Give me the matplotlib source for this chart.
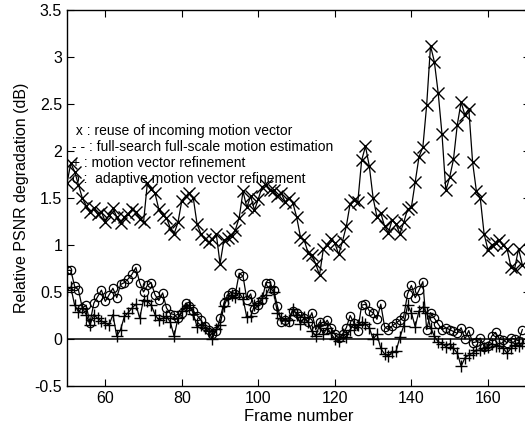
import numpy as np
import matplotlib
matplotlib.use('Agg')
import matplotlib.pyplot as plt

plt.rcParams['font.family'] = ['Liberation Sans', 'DejaVu Sans']

frames = np.arange(50, 170)

# x : reuse of incoming motion vector
reuse = [1.66, 1.87, 1.78, 1.64, 1.50, 1.42, 1.35, 1.39, 1.33, 1.35,
         1.25, 1.32, 1.39, 1.30, 1.23, 1.30, 1.33, 1.38, 1.35, 1.28,
         1.24, 1.66, 1.60, 1.55, 1.38, 1.32, 1.29, 1.18, 1.12, 1.24,
         1.47, 1.52, 1.55, 1.50, 1.22, 1.12, 1.06, 1.03, 1.06, 1.12,
         0.80, 1.05, 1.07, 1.10, 1.16, 1.29, 1.57, 1.40, 1.52, 1.37,
         1.49, 1.62, 1.64, 1.58, 1.58, 1.52, 1.55, 1.46, 1.50, 1.45,
         1.30, 1.09, 1.05, 0.92, 0.89, 0.80, 0.68, 0.96, 1.00, 1.06,
         1.02, 0.90, 1.04, 1.20, 1.44, 1.48, 1.46, 1.90, 2.05, 1.84,
         1.50, 1.30, 1.34, 1.20, 1.13, 1.27, 1.22, 1.12, 1.24, 1.38,
         1.40, 1.67, 1.94, 2.04, 2.49, 3.12, 2.95, 2.62, 2.18, 1.58,
         1.72, 1.91, 2.28, 2.52, 2.38, 2.45, 1.88, 1.57, 1.50, 1.12,
         0.95, 1.00, 1.02, 1.05, 1.00, 0.96, 0.77, 0.75, 0.96, 0.79]

# + : motion vector refinement
refine = [0.52, 0.55, 0.36, 0.29, 0.33, 0.26, 0.15, 0.26, 0.22, 0.19,
          0.17, 0.15, 0.26, 0.03, 0.10, 0.24, 0.28, 0.33, 0.37, 0.22,
          0.42, 0.40, 0.36, 0.26, 0.20, 0.22, 0.24, 0.18, 0.03, 0.22,
          0.30, 0.33, 0.36, 0.27, 0.13, 0.15, 0.12, 0.08, 0.00, 0.11,
          0.15, 0.35, 0.44, 0.47, 0.45, 0.49, 0.43, 0.23, 0.24, 0.36,
          0.38, 0.44, 0.47, 0.55, 0.50, 0.28, 0.22, 0.20, 0.20, 0.32,
          0.26, 0.16, 0.23, 0.18, 0.08, 0.03, 0.15, 0.05, 0.12, 0.06,
          0.00, -0.02, 0.05, 0.02, 0.10, 0.16, 0.15, 0.18, 0.16, 0.12,
          0.00, 0.05, -0.10, -0.16, -0.18, -0.14, -0.13, 0.02, 0.14, 0.36,
          0.28, 0.13, 0.30, 0.34, 0.28, 0.12, 0.03, -0.03, -0.05, -0.08,
          -0.05, -0.10, -0.15, -0.29, -0.20, -0.17, -0.15, -0.12, -0.12, -0.10,
          -0.08, -0.05, -0.07, -0.07, -0.10, -0.15, -0.10, -0.06, -0.07, -0.04]

# o : adaptive motion vector refinement
adaptive = [0.73, 0.73, 0.56, 0.52, 0.33, 0.36, 0.17, 0.38, 0.45, 0.52,
            0.40, 0.47, 0.54, 0.44, 0.58, 0.60, 0.64, 0.69, 0.76, 0.60,
            0.50, 0.57, 0.60, 0.47, 0.41, 0.49, 0.33, 0.27, 0.26, 0.22,
            0.28, 0.38, 0.35, 0.30, 0.25, 0.20, 0.14, 0.10, 0.05, 0.08,
            0.22, 0.38, 0.47, 0.50, 0.48, 0.70, 0.67, 0.42, 0.48, 0.32,
            0.36, 0.42, 0.60, 0.60, 0.52, 0.35, 0.18, 0.20, 0.18, 0.30,
            0.28, 0.25, 0.22, 0.18, 0.28, 0.10, 0.18, 0.14, 0.20, 0.12,
            0.05, 0.01, 0.05, 0.12, 0.25, 0.17, 0.09, 0.36, 0.37, 0.30,
            0.28, 0.21, 0.37, 0.13, 0.10, 0.14, 0.17, 0.20, 0.24, 0.48,
            0.57, 0.44, 0.52, 0.61, 0.10, 0.28, 0.22, 0.16, 0.10, 0.12,
            0.10, 0.08, 0.06, 0.12, 0.00, 0.09, -0.04, -0.03, 0.01, -0.08,
            -0.07, 0.03, 0.07, 0.00, -0.01, -0.04, 0.01, 0.00, -0.02, 0.10]

legend_lines = [' x : reuse of incoming motion vector',
                '- - : full-search full-scale motion estimation',
                '+ : motion vector refinement',
                'o :  adaptive motion vector refinement']
legend_y = [2.21, 2.04, 1.87, 1.70]

xticks = [60, 80, 100, 120, 140, 160]
yticks = [-0.5, 0, 0.5, 1, 1.5, 2, 2.5, 3, 3.5]
yticklabels = ['-0.5', '0', '0.5', '1', '1.5', '2', '2.5', '3', '3.5']

fig = plt.figure(figsize=(5.25, 4.33), dpi=100)
ax = fig.add_axes([67 / 525, 1 - 386 / 433, 463 / 525, 376 / 433])

ax.axhline(0, color='k', lw=1.1)
ax.plot(frames, reuse, 'k-', marker='x', ms=8, mew=1.0, lw=0.9)
ax.plot(frames, refine, 'k-', marker='+', ms=8, mew=1.0, lw=0.9)
ax.plot(frames, adaptive, 'k-', marker='o', ms=6, mew=0.9, mfc='none', lw=0.9)

for s, y in zip(legend_lines, legend_y):
    ax.text(51.3, y, s, fontsize=10, va='center', ha='left')

ax.set_xlim(50, 171)
ax.set_ylim(-0.5, 3.5)
ax.set_xticks(xticks)
ax.set_yticks(yticks)
ax.set_yticklabels(yticklabels)
ax.tick_params(direction='in', length=5, width=0.8, labelsize=11.5,
               top=True, right=True)
for sp in ax.spines.values():
    sp.set_linewidth(1.0)

ax.set_xlabel('Frame number', fontsize=12, labelpad=2)
ax.set_ylabel('Relative PSNR degradation (dB)', fontsize=11.5, labelpad=4)

fig.savefig('out.png', dpi=100)
